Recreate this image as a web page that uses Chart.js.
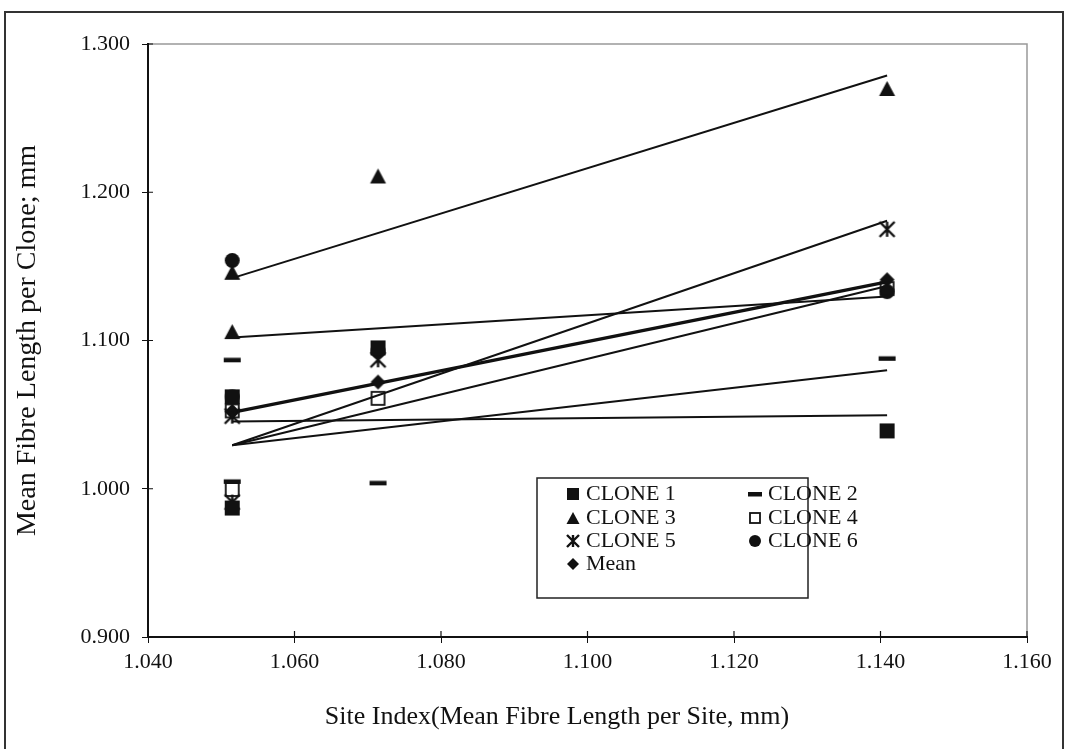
<!DOCTYPE html>
<html>
<head>
<meta charset="utf-8">
<script src="https://cdn.jsdelivr.net/npm/chart.js@4.4.1/dist/chart.umd.min.js"></script>
<style>
  body { margin: 0; background: #fff; }
  #wrap { width: 1067px; height: 749px; position: relative; }
</style>
</head>
<body>
<div id="wrap"><canvas id="chart" width="1067" height="749"></canvas></div>
<script>
'use strict'
// site index (x) for the four sites, two of them share ~1.051
const siteIndex = [1.0515, 1.0515, 1.0714, 1.1409];
const clone1 = [1.062, 0.987, 1.095, 1.039];
const clone2 = [1.087, 1.005, 1.004, 1.088];
const clone3 = [1.146, 1.106, 1.211, 1.270];
const clone4 = [1.0525, 0.9995, 1.061, 1.135];
const clone5 = [1.049, 0.991, 1.087, 1.175];
const clone6 = [1.154, 1.062, 1.093, 1.133];
const meanVals = [1.052, 1.052, 1.072, 1.141];

// trend line ends
const trendX = [1.0515, 1.1409];
const trend1 = [1.0453, 1.0496];
const trend2 = [1.0293, 1.0800];
const trend3 = [1.1421, 1.2787];
const trend4 = [1.0293, 1.1368];
const trend5 = [1.0293, 1.1808];
const trend6 = [1.1021, 1.1296];
const trendMean = [1.0515, 1.1395];

const xTicks = [1.04, 1.06, 1.08, 1.10, 1.12, 1.14, 1.16];
const yTicks = [0.9, 1.0, 1.1, 1.2, 1.3];
const xTitle = 'Site Index(Mean Fibre Length per Site, mm)';
const yTitle = 'Mean Fibre Length per Clone; mm';

function marker(kind, s) {
    const c = document.createElement('canvas');
    const n = s + 4;
    c.width = n; c.height = n;
    const g = c.getContext('2d');
    const m = n / 2, h = s / 2;
    g.fillStyle = '#111';
    g.strokeStyle = '#111';
    if (kind == 'square') g.fillRect(m - h, m - h, s, s);
    if (kind == 'dash') g.fillRect(m - h - 1, m - 2, s + 2, 4.5);
    if (kind == 'triangle') {
        g.beginPath(); g.moveTo(m, m - h); g.lineTo(m + h + 0.5, m + h); g.lineTo(m - h - 0.5, m + h); g.closePath(); g.fill();
    }
    if (kind == 'open') { g.lineWidth = 1.8; g.strokeRect(m - h + 1, m - h + 1, s - 2, s - 2); }
    if (kind == 'star') {
        g.lineWidth = 2.4;
        g.beginPath();
        g.moveTo(m - h, m - h); g.lineTo(m + h, m + h); g.moveTo(m + h, m - h); g.lineTo(m - h, m + h);
        g.moveTo(m, m - h); g.lineTo(m, m + h);
        g.stroke();
    }
    if (kind == 'circle') { g.beginPath(); g.arc(m, m, h, 0, Math.PI * 2); g.fill(); }
    if (kind == 'diamond') {
        g.beginPath(); g.moveTo(m, m - h); g.lineTo(m + h, m); g.lineTo(m, m + h); g.lineTo(m - h, m); g.closePath(); g.fill();
    }
    return c;
}

function pts(ys) { return ys.map((y, i) => ({ x: siteIndex[i], y: y })); }
function line(ys, w) {
    return {
        type: 'line', label: '', data: ys.map((y, i) => ({ x: trendX[i], y: y })),
        borderColor: '#111', borderWidth: w, pointRadius: 0, fill: false, order: 2, isTrend: true
    };
}

const series = [
    { label: 'CLONE 1', vals: clone1, m: 'square' },
    { label: 'CLONE 2', vals: clone2, m: 'dash' },
    { label: 'CLONE 3', vals: clone3, m: 'triangle' },
    { label: 'CLONE 4', vals: clone4, m: 'open' },
    { label: 'CLONE 5', vals: clone5, m: 'star' },
    { label: 'CLONE 6', vals: clone6, m: 'circle' },
    { label: 'Mean', vals: meanVals, m: 'diamond' }
];

const datasets = series.map(s => ({
    type: 'scatter', label: s.label, data: pts(s.vals),
    pointStyle: marker(s.m, 15), legendMark: marker(s.m, 12),
    pointRadius: 9, order: 1, showLine: false
}));
[trend1, trend2, trend3, trend4, trend5, trend6].forEach(t => datasets.push(line(t, 2)));
datasets.push(line(trendMean, 3.4));

const serif = "'Liberation Serif', 'DejaVu Serif', serif";

const framePlugin = {
    id: 'frame',
    beforeDraw(chart) {
        const g = chart.ctx;
        const a = chart.chartArea;
        g.save();
        g.strokeStyle = '#333';
        g.lineWidth = 2;
        g.strokeRect(5, 12, 1058, 760);
        g.strokeStyle = '#999';
        g.lineWidth = 1.5;
        g.strokeRect(a.left, a.top, a.right - a.left, a.bottom - a.top);
        g.restore();
    },
    afterDatasetsDraw(chart) {
        // tick marks crossing into the plot
        const g = chart.ctx;
        const a = chart.chartArea;
        g.save();
        g.strokeStyle = '#111';
        g.lineWidth = 1.2;
        g.beginPath();
        chart.scales.x.ticks.forEach(t => {
            const px = chart.scales.x.getPixelForValue(t.value);
            g.moveTo(px, a.bottom); g.lineTo(px, a.bottom - 6);
        });
        chart.scales.y.ticks.forEach(t => {
            const py = chart.scales.y.getPixelForValue(t.value);
            g.moveTo(a.left, py); g.lineTo(a.left + 5, py);
        });
        g.stroke();
        g.restore();
    },
    afterDraw(chart) {
        const g = chart.ctx;
        g.save();
        // x axis title sits a bit left of the plot centre in the original
        g.font = '26px ' + serif;
        g.fillStyle = '#111';
        g.textAlign = 'center';
        g.textBaseline = 'middle';
        g.fillText(xTitle, 557, 717);
        // legend box
        const bx = 537, by = 478, bw = 271, bh = 120;
        g.fillStyle = '#fff';
        g.fillRect(bx, by, bw, bh);
        g.strokeStyle = '#222';
        g.lineWidth = 1.5;
        g.strokeRect(bx, by, bw, bh);
        g.font = '22px ' + serif;
        g.fillStyle = '#111';
        g.textAlign = 'left';
        const rows = [493, 517, 540, 563];
        chart.data.datasets.filter(d => !d.isTrend).forEach((d, i) => {
            const col = i % 2, row = Math.floor(i / 2);
            const mx = col ? 755 : 573;
            const y = rows[row];
            g.drawImage(d.legendMark, mx - 8, y - 7);
            g.fillText(d.label, mx + 13, y + 1);
        });
        g.restore();
    }
};

new Chart(document.getElementById('chart'), {
    type: 'scatter',
    data: { datasets: datasets },
    plugins: [framePlugin],
    options: {
        responsive: false,
        animation: false,
        layout: { padding: { top: 44, right: 40, left: 0, bottom: 0 } },
        plugins: { legend: { display: false }, tooltip: { enabled: false } },
        scales: {
            x: {
                type: 'linear', min: 1.04, max: 1.16,
                afterBuildTicks: s => { s.ticks = xTicks.map(v => ({ value: v })); },
                afterFit: s => { s.height = 112; },
                ticks: { callback: v => v.toFixed(3), color: '#111', font: { family: serif, size: 22 }, padding: 6, maxRotation: 0 },
                grid: { drawOnChartArea: false, drawTicks: true, tickLength: 6, color: '#111' },
                border: { color: '#111', width: 2 },
                title: { display: false }
            },
            y: {
                type: 'linear', min: 0.9, max: 1.3,
                afterBuildTicks: s => { s.ticks = yTicks.map(v => ({ value: v })); },
                afterFit: s => { s.width = 148; },
                ticks: { callback: v => v.toFixed(3), color: '#111', font: { family: serif, size: 22 }, padding: 12 },
                grid: { drawOnChartArea: false, drawTicks: true, tickLength: 6, color: '#111' },
                border: { color: '#111', width: 2 },
                title: { display: true, text: yTitle, color: '#111', font: { family: serif, size: 28 }, padding: { top: 11, bottom: 0 } }
            }
        }
    }
});
</script>
</body>
</html>
